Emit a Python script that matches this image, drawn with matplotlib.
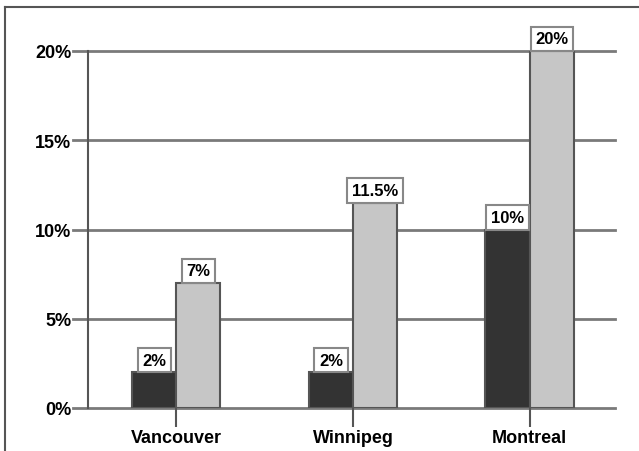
import matplotlib
matplotlib.use("Agg")
import matplotlib.pyplot as plt
import numpy as np

categories = ["Vancouver", "Winnipeg", "Montreal"]
series_dark = [2, 2, 10]
series_light = [7, 11.5, 20]
dark_labels = ["2%", "2%", "10%"]
light_labels = ["7%", "11.5%", "20%"]
yticks = [0, 5, 10, 15, 20]
ytick_labels = ["0%", "5%", "10%", "15%", "20%"]

plt.rcParams['font.family'] = ['Liberation Sans', 'DejaVu Sans']

fig = plt.figure(figsize=(6.39, 4.52), dpi=100)
# outer frame
fig.add_artist(plt.Line2D([5/639, 5/639], [0, 1 - 8/452], color="#555555", lw=1.5))
fig.add_artist(plt.Line2D([5/639, 1], [1 - 8/452, 1 - 8/452], color="#555555", lw=1.5))

ax = fig.add_axes([88/639, 1 - 409/452, (618 - 88)/639, (409 - 52)/452])
x = np.arange(len(categories))
w = 0.25
grid_c = "#7a7a7a"
for t in yticks:
    ax.plot([-0.029, 0.994], [t, t], transform=ax.get_yaxis_transform(), color=grid_c, lw=2, clip_on=False, zorder=1)

b1 = ax.bar(x - w/2, series_dark, w, color="#333333", edgecolor="#555555", lw=1.5, zorder=3)
b2 = ax.bar(x + w/2, series_light, w, color="#c6c6c6", edgecolor="#555555", lw=1.5, zorder=3)

for bars, labels in ((b1, dark_labels), (b2, light_labels)):
    for bar, lab in zip(bars, labels):
        ax.annotate(lab, (bar.get_x() + bar.get_width()/2, bar.get_height()),
                    xytext=(0, 3.3), textcoords="offset points", ha="center", va="bottom",
                    fontsize=12, fontweight="bold", zorder=5,
                    bbox=dict(boxstyle="square,pad=0.28", fc="white", ec="#888888", lw=1.5))

ax.set_xlim(-0.5, 2.5)
ax.set_ylim(0, 20)
ax.set_yticks(yticks)
ax.set_yticklabels(ytick_labels, fontsize=13, fontweight="bold")
ax.tick_params(axis="y", length=0, pad=12)
ax.set_xticks(x)
ax.set_xticklabels(categories, fontsize=13, fontweight="bold")
ax.tick_params(axis="x", length=14, width=1.5, color="#555555", direction="out", pad=1)
for s in ["top", "right", "bottom"]:
    ax.spines[s].set_visible(False)
ax.spines["left"].set_color("#555555")
ax.spines["left"].set_linewidth(1.5)
ax.set_facecolor("none")

fig.savefig("out.png", dpi=100)
